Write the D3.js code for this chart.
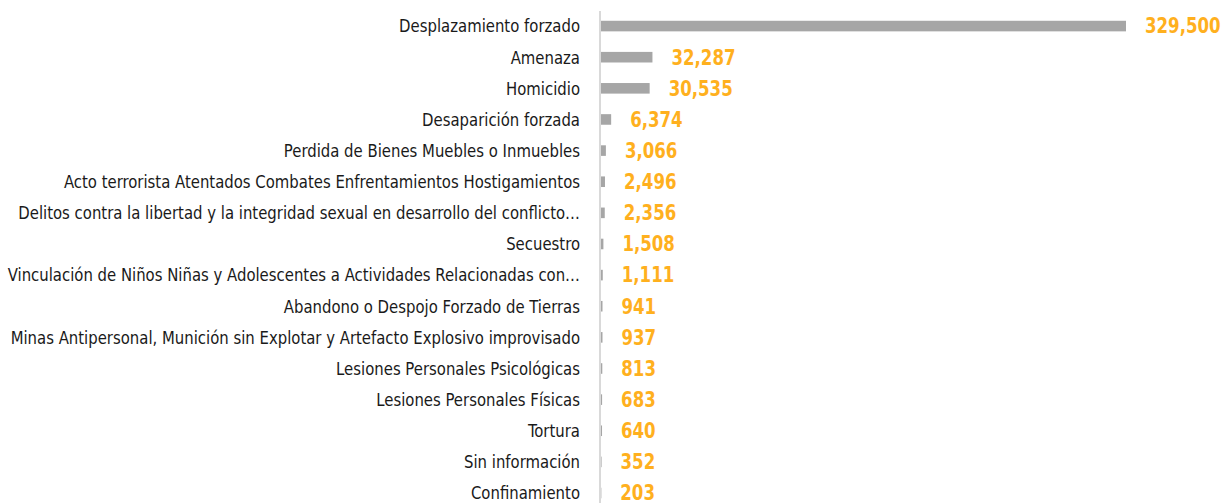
<!DOCTYPE html>
<html>
<head>
<meta charset="utf-8">
<script src="https://cdn.jsdelivr.net/npm/d3@7"></script>
<style>
  body { margin: 0; background: #fff; }
  svg { display: block; }
</style>
</head>
<body>
<div id="chart"></div>
<script>
var categories = [
  "Desplazamiento forzado",
  "Amenaza",
  "Homicidio",
  "Desaparición forzada",
  "Perdida de Bienes Muebles o Inmuebles",
  "Acto terrorista Atentados Combates Enfrentamientos Hostigamientos",
  "Delitos contra la libertad y la integridad sexual en desarrollo del conflicto…",
  "Secuestro",
  "Vinculación de Niños Niñas y Adolescentes a Actividades Relacionadas con…",
  "Abandono o Despojo Forzado de Tierras",
  "Minas Antipersonal, Munición sin Explotar y Artefacto Explosivo improvisado",
  "Lesiones Personales Psicológicas",
  "Lesiones Personales Físicas",
  "Tortura",
  "Sin información",
  "Confinamiento"
]
var values = [329500, 32287, 30535, 6374, 3066, 2496, 2356, 1508, 1111, 941, 937, 813, 683, 640, 352, 203]

var width = 1224
var height = 503
var margin = {top: 10.5, left: 601}
var font = "'DejaVu Sans Condensed', 'Liberation Sans Narrow', sans-serif"

var data = categories.map((c, i) => ({cat: c, val: values[i]}))

var svg = d3.select("#chart")
    .append("svg")
        .attr("width", width)
        .attr("height", height)

const x = d3.scaleLinear()
    .domain([0, 329500])
    .range([margin.left, 1126])

const y = d3.scaleBand()
    .domain(categories)
    .range([margin.top, margin.top + 16 * 31.13])
    .paddingInner(0.66)
    .paddingOuter(0.33)

const yc = d => y(d) + y.bandwidth() / 2

// category labels (squeezed horizontally to look like the condensed original font)
svg.selectAll(".cat")
    .data(data)
    .join("text")
    .attr("class", "cat")
    .attr("transform", d => `translate(580, ${yc(d.cat)}) scale(0.92, 1)`)
    .attr("dy", "0.35em")
    .attr("text-anchor", "end")
    .style("font-family", font)
    .style("font-size", "18px")
    .style("fill", "#1a1a1a")
    .text(d => d.cat)

// bars
svg.selectAll(".bar")
    .data(data)
    .join("rect")
    .attr("class", "bar")
    .attr("x", x(0))
    .attr("y", d => y(d.cat))
    .attr("width", d => Math.max(x(d.val) - x(0), 0))
    .attr("height", y.bandwidth())
    .style("fill", "#a6a6a6")

// vertical axis line
svg.append("line")
    .attr("x1", 600).attr("x2", 600)
    .attr("y1", 11).attr("y2", height)
    .style("stroke", "#d9d9d9")
    .style("stroke-width", 2)

// value labels
svg.selectAll(".val")
    .data(data)
    .join("text")
    .attr("class", "val")
    .attr("transform", d => `translate(${x(d.val) + 19}, ${yc(d.cat)}) scale(0.9, 1)`)
    .attr("dy", "0.36em")
    .style("font-family", font)
    .style("font-weight", "bold")
    .style("font-size", "20.5px")
    .style("fill", "#ffb01e")
    .text(d => d3.format(",")(d.val))
</script>
</body>
</html>
